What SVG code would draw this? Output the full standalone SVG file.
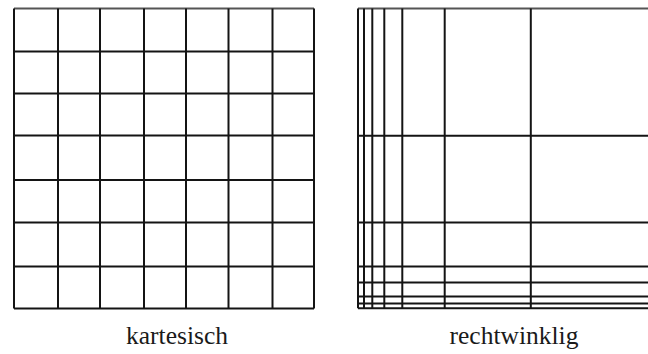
<svg xmlns="http://www.w3.org/2000/svg" width="648" height="354" viewBox="0 0 648 354">
<style>
.g line{stroke:#141414;stroke-width:2;fill:none}
.lbl{font-family:"Liberation Serif","Times New Roman",serif;font-size:25.5px;fill:#1a1a1a;text-anchor:middle}
</style>
<rect width="648" height="354" fill="#fff"/>
<g id="kartesisch" class="g">
<line x1="14" y1="8.5" x2="314" y2="8.5" style="stroke:#555"/>
<line x1="14" y1="51.5" x2="314" y2="51.5"/>
<line x1="14" y1="93.5" x2="314" y2="93.5"/>
<line x1="14" y1="135.5" x2="314" y2="135.5"/>
<line x1="14" y1="180" x2="314" y2="180"/>
<line x1="14" y1="222.5" x2="314" y2="222.5"/>
<line x1="14" y1="266.5" x2="314" y2="266.5"/>
<line x1="14" y1="308.5" x2="314" y2="308.5"/>
<line x1="14" y1="8.5" x2="14" y2="308.5"/>
<line x1="58" y1="8.5" x2="58" y2="308.5"/>
<line x1="100" y1="8.5" x2="100" y2="308.5"/>
<line x1="144" y1="8.5" x2="144" y2="308.5"/>
<line x1="186" y1="8.5" x2="186" y2="308.5"/>
<line x1="228.5" y1="8.5" x2="228.5" y2="308.5"/>
<line x1="272.5" y1="8.5" x2="272.5" y2="308.5"/>
<line x1="314" y1="8.5" x2="314" y2="308.5"/>
<text class="lbl" x="177" y="344">kartesisch</text>
</g>
<g id="rechtwinklig" class="g">
<line x1="358" y1="8.5" x2="648" y2="8.5" style="stroke:#555"/>
<line x1="358" y1="135.7" x2="648" y2="135.7"/>
<line x1="358" y1="222.5" x2="648" y2="222.5"/>
<line x1="358" y1="266.6" x2="648" y2="266.6"/>
<line x1="358" y1="282.6" x2="648" y2="282.6"/>
<line x1="358" y1="296.4" x2="648" y2="296.4"/>
<line x1="358" y1="303.6" x2="648" y2="303.6"/>
<line x1="358" y1="308.3" x2="648" y2="308.3"/>
<line x1="358" y1="8.5" x2="358" y2="308.3"/>
<line x1="364" y1="8.5" x2="364" y2="308.3"/>
<line x1="372.3" y1="8.5" x2="372.3" y2="308.3"/>
<line x1="384.3" y1="8.5" x2="384.3" y2="308.3"/>
<line x1="402.3" y1="8.5" x2="402.3" y2="308.3"/>
<line x1="444.7" y1="8.5" x2="444.7" y2="308.3"/>
<line x1="530.8" y1="8.5" x2="530.8" y2="308.3"/>
<text class="lbl" x="514" y="344">rechtwinklig</text>
</g>
</svg>
